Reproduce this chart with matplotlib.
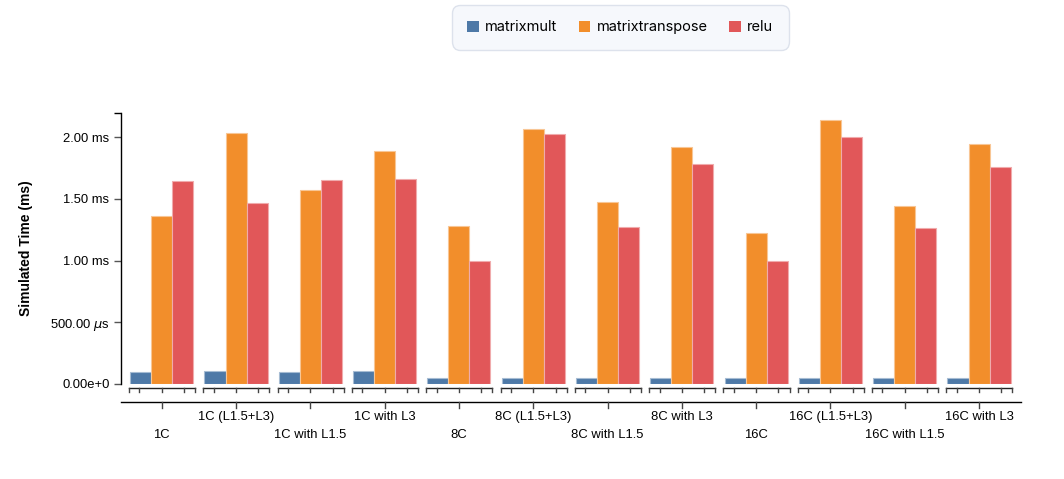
import numpy as np
import matplotlib.pyplot as plt
from matplotlib import transforms
from matplotlib.patches import Rectangle

# simulated time per configuration (ms)
configs = [
    "1C", "1C (L1.5+L3)", "1C with L1.5", "1C with L3",
    "8C", "8C (L1.5+L3)", "8C with L1.5", "8C with L3",
    "16C", "16C (L1.5+L3)", "16C with L1.5", "16C with L3",
]
matrixmult = [0.092, 0.100, 0.098, 0.102, 0.050, 0.050, 0.050, 0.050, 0.050, 0.050, 0.050, 0.050]
matrixtranspose = [1.365, 2.038, 1.576, 1.889, 1.279, 2.070, 1.479, 1.919, 1.222, 2.143, 1.441, 1.949]
relu = [1.646, 1.471, 1.654, 1.665, 0.997, 2.027, 1.276, 1.781, 0.997, 2.000, 1.268, 1.763]

series = ["matrixmult", "matrixtranspose", "relu"]
colors = ["#4e79a7", "#f28e2b", "#e15759"]
edges = ["#a6bcd3", "#f8c695", "#f0abac"]

ytick_vals = [0.0, 0.5, 1.0, 1.5, 2.0]
ytick_labels = ["0.00e+0", "500.00 $\\mu$s", "1.00 ms", "1.50 ms", "2.00 ms"]

plt.rcParams["font.family"] = ["Liberation Sans", "DejaVu Sans"]

W, H = 1064, 479
y0_px, y1_px = 383.8, 112.7  # pixel rows of value 0 and axis top
fig = plt.figure(figsize=(W / 100, H / 100), dpi=100)
ax = fig.add_axes([120.5 / W, (H - y0_px) / H, (1021 - 120.5) / W, (y0_px - y1_px) / H])


def fy(py):
    # pixel row -> axes fraction
    return (y0_px - py) / (y0_px - y1_px)


x = np.arange(len(configs))
offs = [-0.283, 0.0, 0.283]
handles = []
for vals, off, c, ec, name in zip([matrixmult, matrixtranspose, relu], offs, colors, edges, series):
    ax.bar(x + off, vals, width=0.283, color=c, edgecolor=ec, linewidth=0.8, label=name)
    handles.append(Rectangle((0, 0), 1, 1, facecolor=c, edgecolor="none"))

ax.set_xlim(-0.555, 11.565)
ax.set_ylim(0, 2.2)
for s in ["top", "right", "bottom"]:
    ax.spines[s].set_visible(False)
ax.spines["left"].set_linewidth(1.0)
ax.set_xticks([])
ax.set_yticks(ytick_vals)
ax.set_yticklabels(ytick_labels, fontsize=9.4)
ax.set_yticks([2.2], minor=True)
ax.tick_params(axis="y", which="major", length=5, width=1, color="#555555", pad=3)
ax.tick_params(axis="y", which="minor", length=5, width=1, color="black")
ax.set_ylabel("Simulated Time (ms)", fontsize=10, fontweight="bold", labelpad=12)

# small axis under each group plus the main category axis
tr = transforms.blended_transform_factory(ax.transData, ax.transAxes)
ya, yb = fy(388.3), fy(391.7)
for i in x:
    ax.plot([i - 0.44, i + 0.45], [ya, ya], color="#222222", lw=1, transform=tr, clip_on=False)
    for t in [i - 0.44, i - 0.30, i, i + 0.30, i + 0.45]:
        ax.plot([t, t], [ya, yb], color="#444444", lw=1, transform=tr, clip_on=False)

ym, yt = fy(401.7), fy(407.5)
ax.plot([0, 1], [ym, ym], color="black", lw=1, transform=ax.transAxes, clip_on=False)
for i, lab in enumerate(configs):
    ax.plot([i, i], [ym, yt], color="#444444", lw=1, transform=tr, clip_on=False)
    row = 416.7 if i % 2 else 435.0
    ax.text(i, fy(row), lab, ha="center", va="center", fontsize=9.4, transform=tr)

leg = fig.legend(
    handles, series, loc="center", bbox_to_anchor=(620.3 / W, 1 - 27.2 / H), ncol=3,
    prop={"family": ["Inter", "DejaVu Sans"], "size": 10.5},
    handlelength=0.8, handleheight=0.8, handletextpad=0.45, columnspacing=1.45,
    borderpad=1.05, frameon=True, fancybox=True, framealpha=1,
)
frame = leg.get_frame()
frame.set_facecolor("#f6f8fc")
frame.set_edgecolor("#dde2ec")
frame.set_linewidth(1)
frame.set_boxstyle("round", pad=0, rounding_size=0.55)

fig.savefig("out.png", dpi=100)
